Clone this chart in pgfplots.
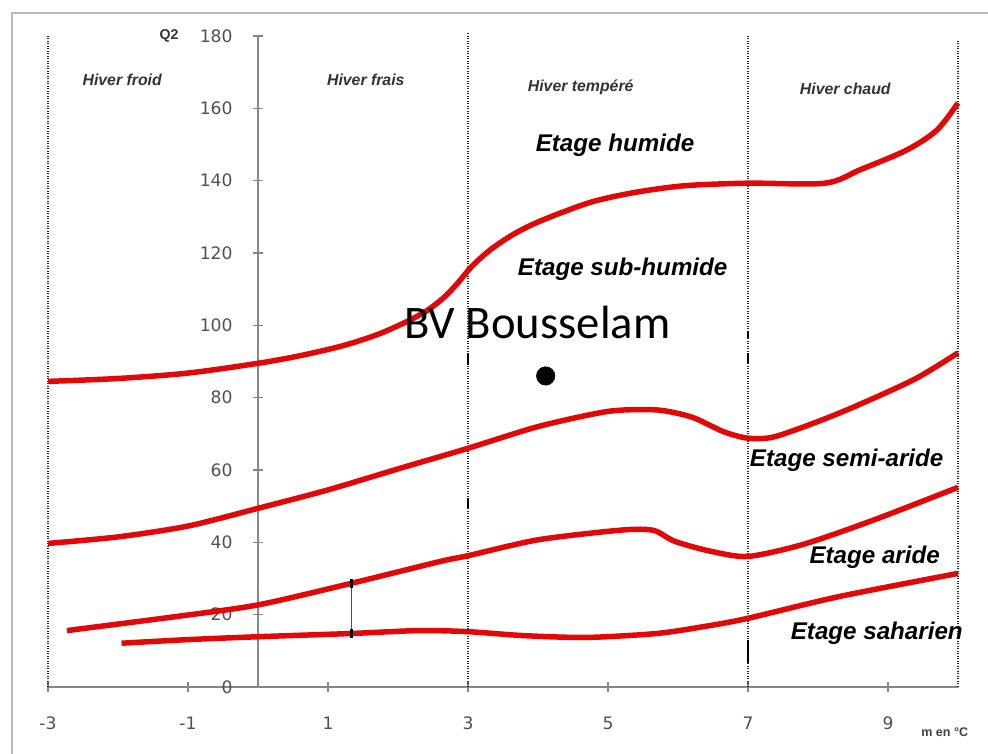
\documentclass[border=0pt]{standalone}
\usepackage{pgfplots}
\pgfplotsset{compat=1.18}
\usepackage{fontspec}
\setmainfont{Liberation Sans}
\newfontfamily\dejavu{DejaVu Sans}
\newfontfamily\carlito{Carlito}
\definecolor{cred}{RGB}{226,8,8}
\definecolor{tickgray}{RGB}{80,80,80}
\definecolor{axgray}{RGB}{135,135,135}
\begin{document}
\begin{tikzpicture}
\draw[gray!55, line width=1.2pt] (7.2pt,0pt) -- (7.2pt,444.6pt) -- (592.8pt,444.6pt);
\begin{axis}[
  at={(28.8pt,40.2pt)}, anchor=south west,
  scale only axis, width=546pt, height=390.6pt,
  xmin=-3, xmax=10, ymin=0, ymax=180,
  axis x line=bottom, axis y line=center,
  axis line style={-, axgray, line width=0.8pt},
  xtick={-3,-1,1,3,5,7,9}, ytick={0,20,...,180},
  tick align=center, major tick length=6.5pt,
  tick style={axgray, line width=0.8pt},
  hide obscured x ticks=false, hide obscured y ticks=false,
  ticklabel style={font=\dejavu\fontsize{10.3}{12}\selectfont, text=tickgray},
  /pgf/number format/assume math mode=true,
  yticklabel style={anchor=east, xshift=-8.5pt},
  xticklabel style={anchor=north, yshift=-11pt},
  clip=false,
]
% zone boundaries
\addplot[black!85, line width=1.5pt, dash pattern=on 0.7pt off 0.8pt] coordinates {(-3,0) (-3,180)};
\addplot[black!85, line width=1.5pt, dash pattern=on 0.7pt off 0.8pt] coordinates {(3,0) (3,181)};
\addplot[black!85, line width=1.5pt, dash pattern=on 0.7pt off 0.8pt] coordinates {(7,0) (7,180)};
\addplot[black!85, line width=1.5pt, dash pattern=on 0.7pt off 0.8pt] coordinates {(10,0) (10,179)};
% small marks
\addplot[black, line width=1.4pt] coordinates {(3,89) (3,92)};
\addplot[black, line width=1.4pt] coordinates {(3,49.5) (3,52.3)};
\addplot[black, line width=1.4pt] coordinates {(7,96.5) (7,98.3)};
\addplot[black, line width=1.4pt] coordinates {(7,89.5) (7,92.3)};
\addplot[black, line width=1.4pt] coordinates {(7,6.6) (7,13)};
% climagram curves
\addplot[cred, line width=3.3pt, smooth, tension=0.5] coordinates {
(-3,84.5) (-2,85.3) (-1,86.8) (0,89.5) (0.6,91.6) (1.2,94.3) (1.7,97.4) (2.1,100.8) (2.4,103.9) (2.65,107.6) (2.85,111.6) (3.05,116.2) (3.3,120.6) (3.6,124.6) (3.9,127.7) (4.3,130.9) (4.8,134.3) (5.4,136.8) (6.1,138.6) (7,139.3) (8.1,139.3) (8.6,143) (9.27,148.5) (9.7,154) (10,161.5)};
\addplot[cred, line width=3.3pt, smooth, tension=0.45] coordinates {
(-3,39.7) (-2,41.5) (-1,44.5) (0,49.4) (1,54.5) (2,60.3) (3,66) (4,72) (5,76.2) (5.7,76.6) (6.2,74.6) (6.65,70.6) (7,68.8) (7.4,69.3) (8.3,75.7) (9.36,84.9) (10,92.4)};
\addplot[cred, line width=3.3pt, smooth, tension=0.45] coordinates {
(-2.73,15.6) (-1.2,19.4) (0,22.7) (1.34,28.7) (2.6,34.7) (3,36.3) (4,40.7) (5.2,43.4) (5.65,43.3) (5.95,40.3) (6.45,37.6) (7,36.1) (7.8,39.5) (8.8,46.2) (10,55.2)};
\addplot[cred, line width=3.3pt, smooth, tension=0.45] coordinates {
(-1.95,12.1) (-1,13.1) (0,13.9) (1.34,14.8) (2.3,15.6) (3,15.3) (3.8,14.2) (4.7,13.7) (5.7,14.8) (6.4,16.8) (7,19) (8.3,25) (10,31.4)};
% thin connector
\addplot[black!70, line width=0.4pt] coordinates {(1.34,14.8) (1.34,28.7)};
\addplot[black, only marks, mark=|, mark size=2.6pt, mark options={line width=1.6pt}] coordinates {(1.34,14.8) (1.34,28.7)};
% station
\addplot[black, only marks, mark=*, mark size=5.5pt] coordinates {(4.11,86)};
% texts
\node[anchor=base, font=\fontsize{9.5}{11}\selectfont\bfseries\itshape, text=black!80] at (axis cs:-1.94,166.3) {Hiver froid};
\node[anchor=base, font=\fontsize{9.5}{11}\selectfont\bfseries\itshape, text=black!80] at (axis cs:1.54,166.3) {Hiver frais};
\node[anchor=base, font=\fontsize{9.5}{11}\selectfont\bfseries\itshape, text=black!80] at (axis cs:4.61,164.7) {Hiver tempéré};
\node[anchor=base, font=\fontsize{9.5}{11}\selectfont\bfseries\itshape, text=black!80] at (axis cs:8.39,163.8) {Hiver chaud};
\node[anchor=base, font=\fontsize{14.5}{16}\selectfont\bfseries\itshape] at (axis cs:5.1,148.1) {Etage humide};
\node[anchor=base, font=\fontsize{14.5}{16}\selectfont\bfseries\itshape] at (axis cs:5.21,113.7) {Etage sub-humide};
\node[anchor=base, font=\fontsize{14.5}{16}\selectfont\bfseries\itshape] at (axis cs:8.41,60.9) {Etage semi-aride};
\node[anchor=base, font=\fontsize{14.5}{16}\selectfont\bfseries\itshape] at (axis cs:8.81,34.2) {Etage aride};
\node[anchor=base, font=\fontsize{14.5}{16}\selectfont\bfseries\itshape] at (axis cs:8.84,13.0) {Etage saharien};
\node[anchor=base, font=\carlito\fontsize{28}{32}\selectfont] at (axis cs:3.99,96.4) {BV Bousselam};
\node[anchor=base, font=\fontsize{8.5}{10}\selectfont\bfseries, text=black!80] at (axis cs:-1.27,179.1) {Q2};
\node[anchor=base, font=\fontsize{7.5}{9}\selectfont\bfseries, text=black!75] at (axis cs:9.81,-13.6) {m en °C};
\end{axis}
\pgfresetboundingbox
\path[use as bounding box] (0pt,0pt) rectangle (592.8pt,452.4pt);
\end{tikzpicture}
\end{document}
